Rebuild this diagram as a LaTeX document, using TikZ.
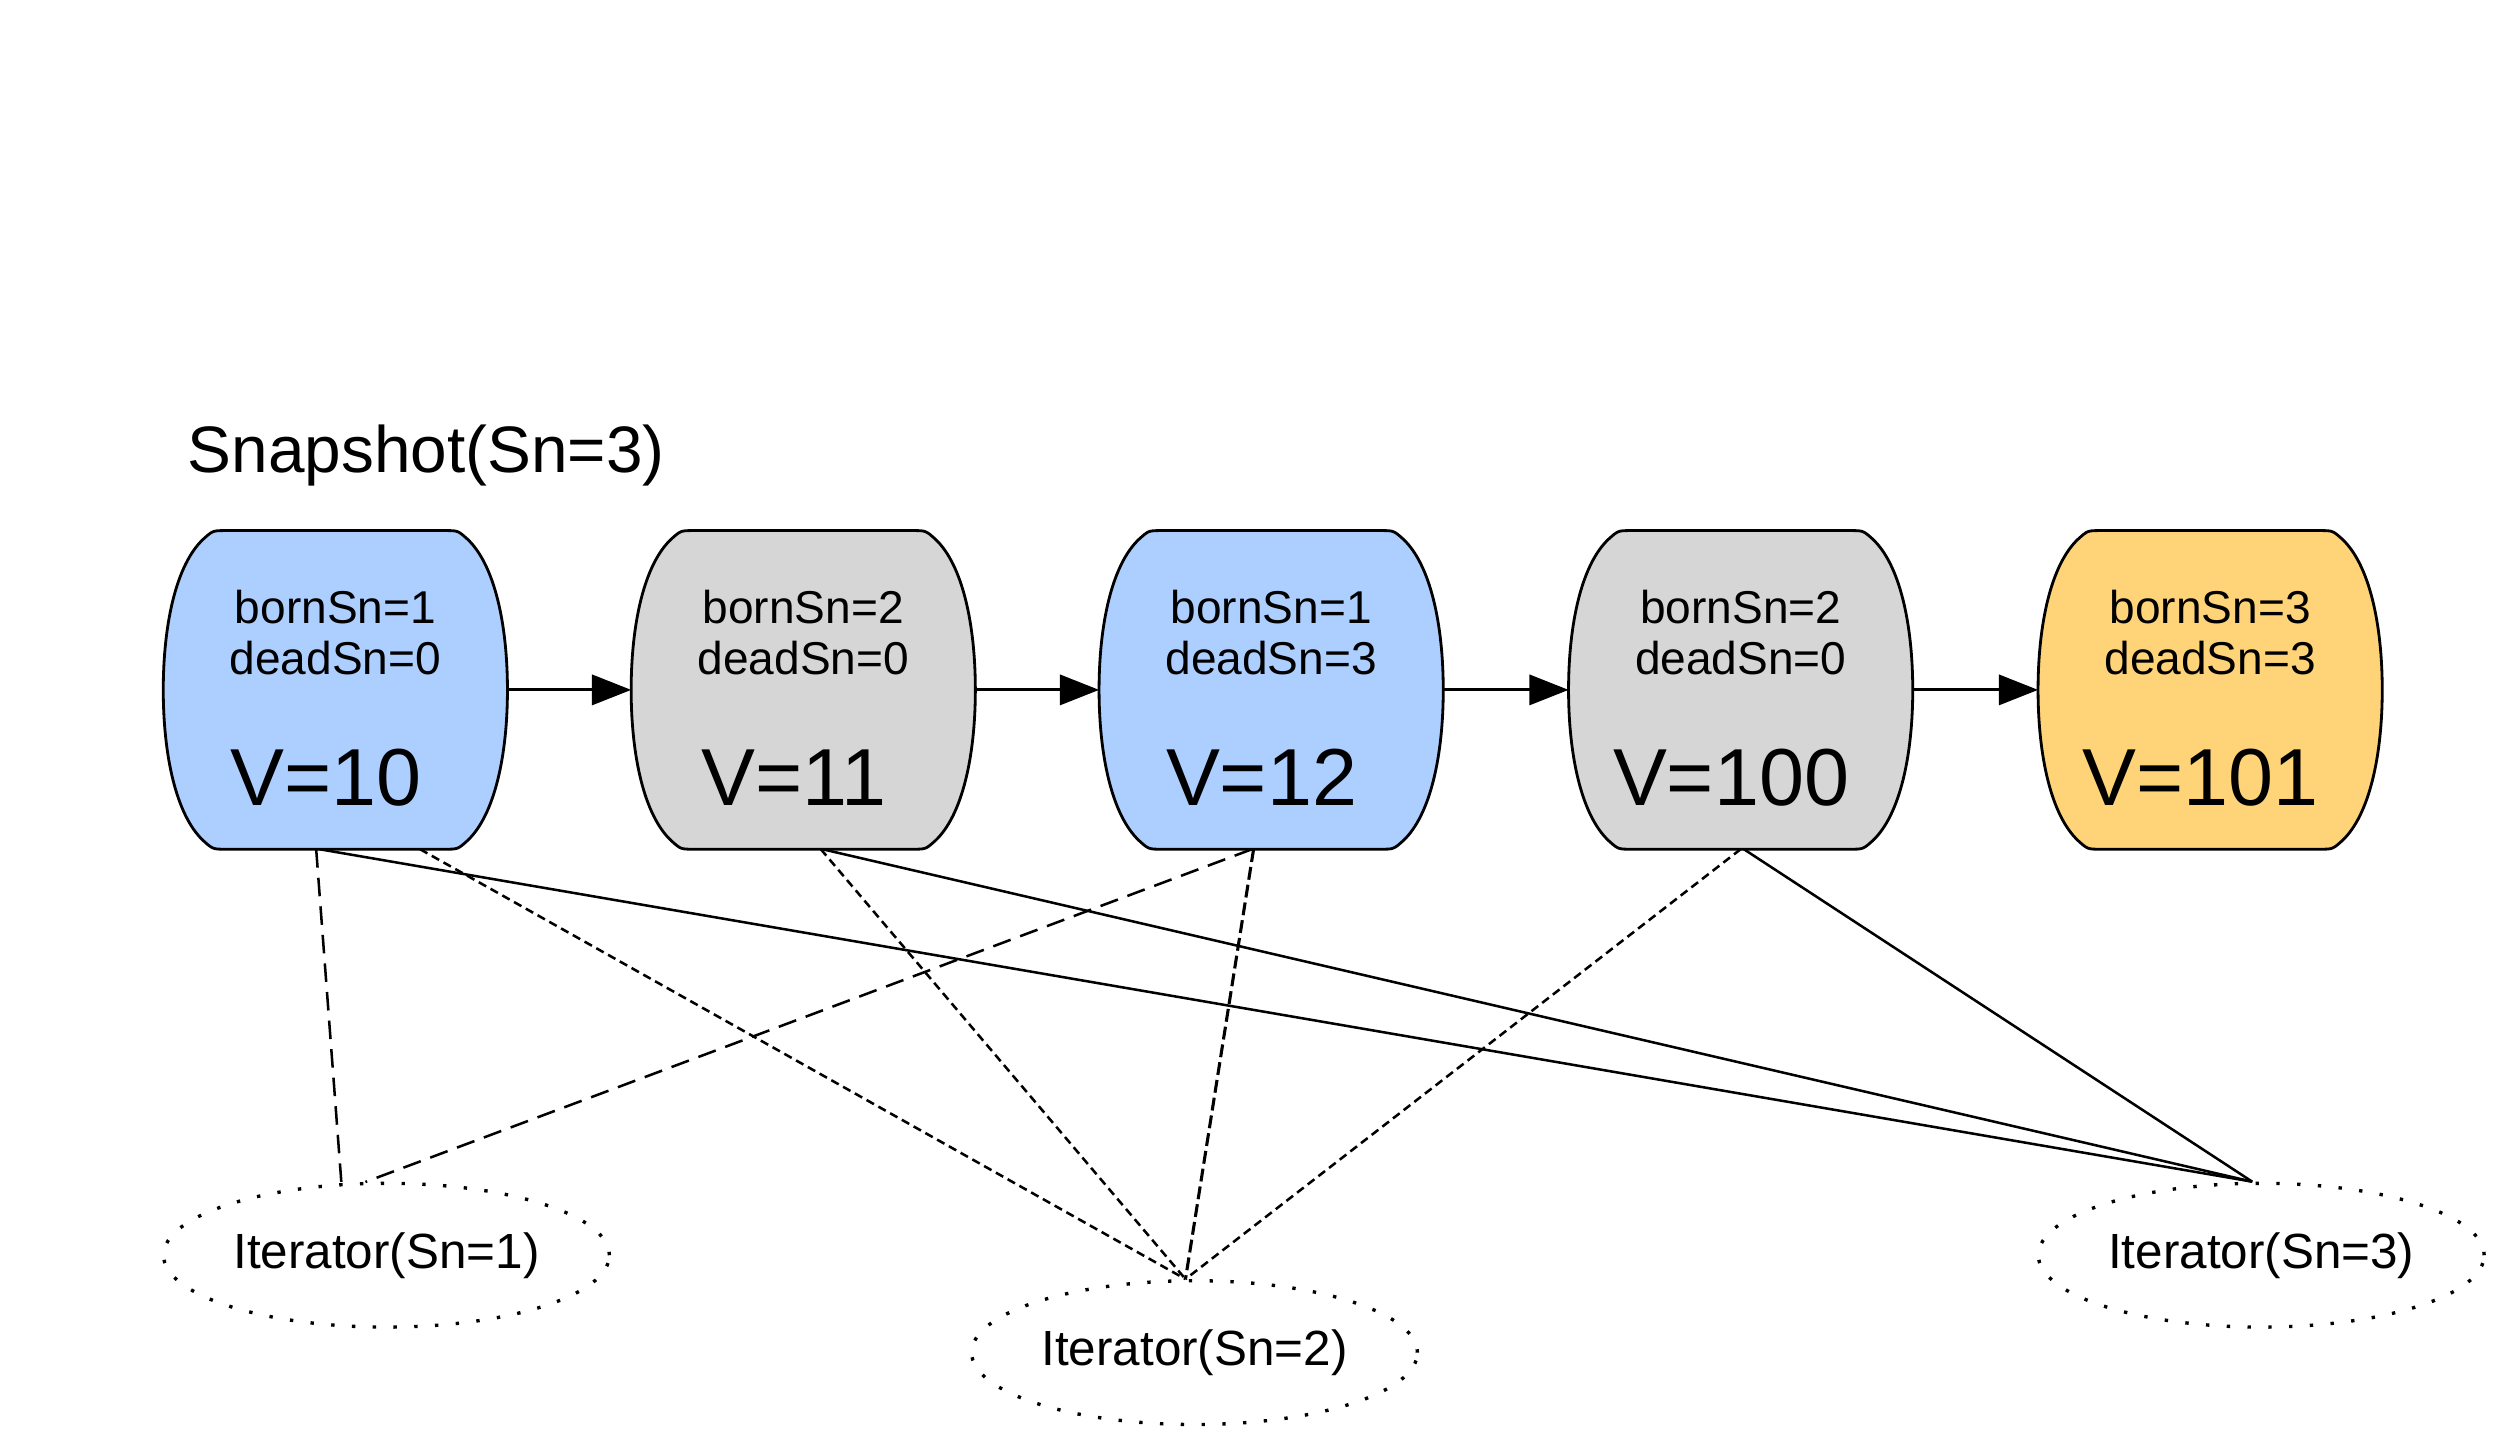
\documentclass[tikz,border=0pt]{standalone}
\usepackage{fontspec}
\setmainfont{Liberation Sans}
\usetikzlibrary{shapes.geometric, arrows.meta}

\definecolor{cellblue}{RGB}{173,207,255}
\definecolor{cellgray}{RGB}{214,214,214}
\definecolor{cellyellow}{RGB}{255,212,121}

\tikzstyle{cell}=[rectangle, minimum width=2.14cm,
                  minimum height=1.98cm, inner sep=0pt]
\tikzstyle{cellline}=[line width=0.5pt, line join=round]
\tikzstyle{sn}=[align=center, inner sep=0pt,
                font=\fontsize{8.2}{9.1}\selectfont]
\tikzstyle{val}=[inner sep=0pt, font=\fontsize{14.4}{17}\selectfont]
\tikzstyle{iter}=[ellipse, draw, line width=0.6pt,
                  dash pattern=on 0.6pt off 3.1pt,
                  minimum width=2.79cm, minimum height=0.9cm, inner sep=0pt,
                  font=\fontsize{8.8}{10}\selectfont]
\tikzstyle{next}=[-{Triangle[length=7pt, width=5.4pt]}, line width=0.5pt]
\tikzstyle{longdash}=[line width=0.45pt, dash pattern=on 3.3pt off 1.8pt]
\tikzstyle{shortdash}=[line width=0.45pt, dash pattern=on 1.5pt off 0.9pt]

\begin{document}
\begin{tikzpicture}[x=0.01cm, y=-0.01cm]
  \useasboundingbox (0, 0) rectangle (1568, 905);

  %%%%%%%%%%%%%%%%%%%%%%%%%%%%%%
  % snapshot
  \node (title) at (117, 285) [anchor=west, inner sep=0pt,
        font=\fontsize{11.7}{14}\selectfont] {Snapshot(Sn=3)};

  %%%%%%%%%%%%%%%%%%%%%%%%%%%%%%
  % versions
  \node (b1) at (210, 432) [cell] {};
  \node (b2) at (503, 432) [cell] {};
  \node (b3) at (796, 432) [cell] {};
  \node (b4) at (1090, 432) [cell] {};
  \node (b5) at (1384, 432) [cell] {};

  % outlines
  \foreach \n/\c in {b1/cellblue, b2/cellgray, b3/cellblue,
                     b4/cellgray, b5/cellyellow}
    \draw [cellline, fill=\c] ([xshift=0.39cm]\n.north west)
      .. controls ([xshift=0.31cm]\n.north west)
      .. ([xshift=0.25cm, yshift=-0.054cm]\n.north west)
      .. controls +(-17, 16) and +(0, -41) .. (\n.west)
      .. controls +(0, 41) and +(-17, -16)
      .. ([xshift=0.25cm, yshift=0.054cm]\n.south west)
      .. controls ([xshift=0.31cm]\n.south west)
      .. ([xshift=0.39cm]\n.south west)
      -- ([xshift=-0.39cm]\n.south east)
      .. controls ([xshift=-0.31cm]\n.south east)
      .. ([xshift=-0.25cm, yshift=0.054cm]\n.south east)
      .. controls +(17, -16) and +(0, 41) .. (\n.east)
      .. controls +(0, -41) and +(17, 16)
      .. ([xshift=-0.25cm, yshift=-0.054cm]\n.north east)
      .. controls ([xshift=-0.31cm]\n.north east)
      .. ([xshift=-0.39cm]\n.north east)
      -- cycle;

  % texts
  \node (b1_sn) at (210, 396) [sn] {bornSn=1\\deadSn=0};
  \node (b1_v) at (204, 487) [val] {V=10};

  \node (b2_sn) at (503, 396) [sn] {bornSn=2\\deadSn=0};
  \node (b2_v) at (497, 487) [val] {V=11};

  \node (b3_sn) at (796, 396) [sn] {bornSn=1\\deadSn=3};
  \node (b3_v) at (790, 487) [val] {V=12};

  \node (b4_sn) at (1090, 396) [sn] {bornSn=2\\deadSn=0};
  \node (b4_v) at (1084, 487) [val] {V=100};

  \node (b5_sn) at (1384, 396) [sn] {bornSn=3\\deadSn=3};
  \node (b5_v) at (1378, 487) [val] {V=101};

  %%%%%%%%%%%%%%%%%%%%%%%%%%%%%%
  % iterators
  \node (it1) at (242, 786) [iter] {Iterator(Sn=1)};
  \node (it2) at (748, 847) [iter] {Iterator(Sn=2)};
  \node (it3) at (1416, 786) [iter] {Iterator(Sn=3)};

  %%%%%%%%%%%%%%%%%%%%%%%%%%%%%%
  % links
  % chain
  \draw [next] (b1) to (b2);
  \draw [next] (b2) to (b3);
  \draw [next] (b3) to (b4);
  \draw [next] (b4) to (b5);

  % iterator sn=1
  \draw [longdash] ([xshift=-0.12cm]b1.south) to (it1.122);
  \draw [longdash] ([xshift=-0.12cm]b3.south) to (it1.106);

  % iterator sn=2
  \draw [shortdash] ([xshift=0.53cm]b1.south) to (it2.97);
  \draw [shortdash] ([xshift=0.11cm]b2.south) to (it2.97);
  \draw [line width=0.55pt, dash pattern=on 2.3pt off 0.9pt]
        ([xshift=-0.11cm]b3.south) to (it2.97);
  \draw [shortdash] (b4.south) to (it2.97);

  % iterator sn=3
  \draw [line width=0.45pt] ([xshift=-0.1cm]b1.south) to (it3.97);
  \draw [line width=0.45pt] ([xshift=0.12cm]b2.south) to (it3.97);
  \draw [line width=0.45pt] ([xshift=0.02cm]b4.south) to (it3.97);

\end{tikzpicture}
\end{document}
